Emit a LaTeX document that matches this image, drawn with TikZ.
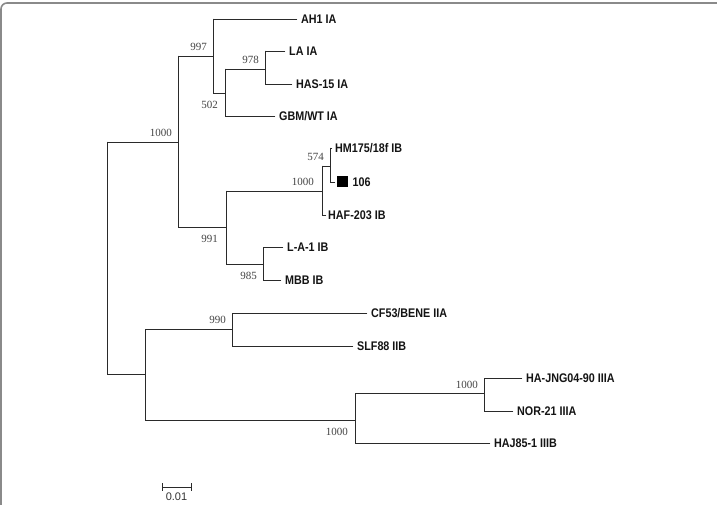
\documentclass[tikz,border=0pt]{standalone}
\usepackage{fontspec}
\usetikzlibrary{calc}
\newfontfamily\labfont{Liberation Sans}[FakeStretch=0.86]
\newfontfamily\numfont{Liberation Serif}
\newfontfamily\scfont{Liberation Sans}
\definecolor{branch}{HTML}{2A2A2A}
\definecolor{numcol}{HTML}{444444}
\definecolor{framecol}{HTML}{8A8A8A}
\begin{document}
\begin{tikzpicture}[x=1pt,y=-1pt,
  br/.style={draw=branch,line width=0.95pt,line cap=rect},
  leaf/.style={anchor=west,inner sep=0pt,xshift=4pt,font=\labfont\bfseries\fontsize{12.5}{14}\selectfont,text=black!92},
  bsa/.style={anchor=south east,inner sep=0pt,xshift=-6pt,yshift=5pt,font=\numfont\fontsize{11}{12}\selectfont,text=numcol},
  bsb/.style={anchor=north east,inner sep=0pt,xshift=-7pt,yshift=-8pt,font=\numfont\fontsize{11}{12}\selectfont,text=numcol}]
\useasboundingbox (0,0) rectangle (717,505);
\fill[white] (0,0) rectangle (717,505);
% frame
\draw[framecol,line width=1.6pt,rounded corners=6pt] (1,506) -- (1,3) -- (718,3);
% internal nodes
\coordinate (R) at (107,258);
\coordinate (A) at (178,142);
\coordinate (IA) at (213,56);
\coordinate (n502) at (225,93);
\coordinate (n978) at (265,69);
\coordinate (IB) at (226,227);
\coordinate (nB) at (322,191);
\coordinate (n574) at (330,166);
\coordinate (n985) at (263,264);
\coordinate (G2) at (145,374);
\coordinate (n990) at (232,329);
\coordinate (nC) at (355,420);
\coordinate (nD) at (484,393);
% leaf ends
\coordinate (lAH1) at (297,19);
\coordinate (lLA) at (285,51);
\coordinate (lHAS) at (292,84);
\coordinate (lGBM) at (275,116);
\coordinate (lHM) at (332,148);
\coordinate (l106) at (335,182);
\coordinate (lHAF) at (326,215);
\coordinate (lLA1) at (283,247);
\coordinate (lMBB) at (281,280);
\coordinate (lCF) at (367,313);
\coordinate (lSLF) at (353,346);
\coordinate (lJNG) at (522,378);
\coordinate (lNOR) at (513,411);
\coordinate (lHAJ) at (490,443);
% branches
\draw[br] (R |- A) -- (R |- G2);
\draw[br] (R |- A) -- (A);
\draw[br] (R |- G2) -- (G2);
\draw[br] (A |- IA) -- (A |- IB);
\draw[br] (A |- IA) -- (IA);
\draw[br] (A |- IB) -- (IB);
\draw[br] (IA |- lAH1) -- (IA |- n502);
\draw[br] (IA |- lAH1) -- (lAH1);
\draw[br] (IA |- n502) -- (n502);
\draw[br] (n502 |- n978) -- (n502 |- lGBM);
\draw[br] (n502 |- n978) -- (n978);
\draw[br] (n502 |- lGBM) -- (lGBM);
\draw[br] (n978 |- lLA) -- (n978 |- lHAS);
\draw[br] (n978 |- lLA) -- (lLA);
\draw[br] (n978 |- lHAS) -- (lHAS);
\draw[br] (IB |- nB) -- (IB |- n985);
\draw[br] (IB |- nB) -- (nB);
\draw[br] (IB |- n985) -- (n985);
\draw[br] (nB |- n574) -- (nB |- lHAF);
\draw[br] (nB |- n574) -- (n574);
\draw[br] (nB |- lHAF) -- (lHAF);
\draw[br] (n574 |- lHM) -- (n574 |- l106);
\draw[br] (n574 |- lHM) -- (lHM);
\draw[br] (n574 |- l106) -- (l106);
\draw[br] (n985 |- lLA1) -- (n985 |- lMBB);
\draw[br] (n985 |- lLA1) -- (lLA1);
\draw[br] (n985 |- lMBB) -- (lMBB);
\draw[br] (G2 |- n990) -- (G2 |- nC);
\draw[br] (G2 |- n990) -- (n990);
\draw[br] (G2 |- nC) -- (nC);
\draw[br] (n990 |- lCF) -- (n990 |- lSLF);
\draw[br] (n990 |- lCF) -- (lCF);
\draw[br] (n990 |- lSLF) -- (lSLF);
\draw[br] (nC |- nD) -- (nC |- lHAJ);
\draw[br] (nC |- nD) -- (nD);
\draw[br] (nC |- lHAJ) -- (lHAJ);
\draw[br] (nD |- lJNG) -- (nD |- lNOR);
\draw[br] (nD |- lJNG) -- (lJNG);
\draw[br] (nD |- lNOR) -- (lNOR);
% leaf labels
\node[leaf] (tAH1) at (lAH1) {AH1 IA};
\node[leaf] (tLA) at (lLA) {LA IA};
\node[leaf] (tHAS) at (lHAS) {HAS-15 IA};
\node[leaf] (tGBM) at (lGBM) {GBM/WT IA};
\node[leaf,xshift=-1pt] (tHM) at (lHM) {HM175/18f IB};
\node[fill=black,minimum size=11pt,inner sep=0pt,anchor=west,xshift=2pt] (sq) at (l106) {};
\node[leaf] (t106) at (sq.east) {106};
\node[leaf,xshift=-2pt] (tHAF) at (lHAF) {HAF-203 IB};
\node[leaf] (tLA1) at (lLA1) {L-A-1 IB};
\node[leaf] (tMBB) at (lMBB) {MBB IB};
\node[leaf] (tCF) at (lCF) {CF53/BENE IIA};
\node[leaf] (tSLF) at (lSLF) {SLF88 IIB};
\node[leaf] (tJNG) at (lJNG) {HA-JNG04-90 IIIA};
\node[leaf] (tNOR) at (lNOR) {NOR-21 IIIA};
\node[leaf] (tHAJ) at (lHAJ) {HAJ85-1 IIIB};
% bootstrap values
\node[bsa] (b1) at (A) {1000};
\node[bsa] (b2) at (IA) {997};
\node[bsa] (b3) at (n978) {978};
\node[bsb] (b4) at (n502) {502};
\node[bsa,xshift=-2pt] (b5) at (nB) {1000};
\node[bsa] (b6) at (n574) {574};
\node[bsb,xshift=-1pt] (b7) at (IB) {991};
\node[bsb,xshift=1pt] (b8) at (n985) {985};
\node[bsa] (b9) at (n990) {990};
\node[bsa,yshift=-1pt] (b10) at (nD) {1000};
\node[bsb] (b11) at (nC) {1000};
% scale bar
\coordinate (s1) at (162,487);
\coordinate (s2) at (191,487);
\draw[br,line cap=butt] (s1) -- (s2);
\draw[br,line cap=butt] ([yshift=4pt]s1) -- ([yshift=-4pt]s1);
\draw[br,line cap=butt] ([yshift=4pt]s2) -- ([yshift=-4pt]s2);
\node[anchor=north,inner sep=0pt,font=\scfont\fontsize{11}{12}\selectfont,text=black!80] (sl) at ([yshift=-6pt]$(s1)!0.5!(s2)$) {0.01};
\end{tikzpicture}
\end{document}
